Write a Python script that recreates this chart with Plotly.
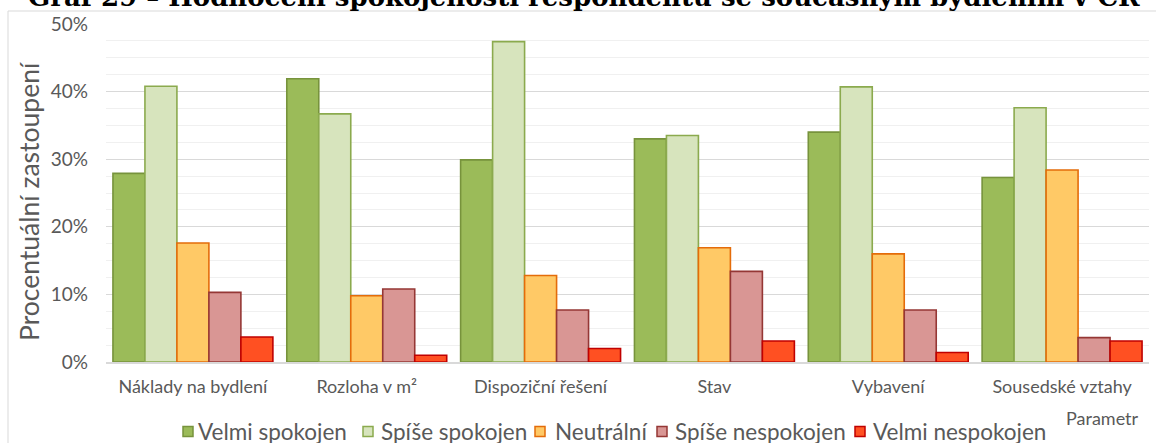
import plotly.graph_objects as go

categories = ["Náklady na bydlení", "Rozloha v m²", "Dispoziční řešení", "Stav", "Vybavení", "Sousedské vztahy"]
series_names = ["Velmi spokojen", "Spíše spokojen", "Neutrální", "Spíše nespokojen", "Velmi nespokojen"]
velmi_spokojen = [0.279, 0.419, 0.299, 0.330, 0.340, 0.273]
spise_spokojen = [0.408, 0.367, 0.474, 0.335, 0.407, 0.376]
neutralni = [0.176, 0.098, 0.128, 0.169, 0.160, 0.284]
spise_nespokojen = [0.103, 0.108, 0.077, 0.134, 0.077, 0.036]
velmi_nespokojen = [0.037, 0.010, 0.020, 0.031, 0.014, 0.031]
y_ticks = [0, 0.1, 0.2, 0.3, 0.4, 0.5]
y_tick_labels = ["0%", "10%", "20%", "30%", "40%", "50%"]

values = [velmi_spokojen, spise_spokojen, neutralni, spise_nespokojen, velmi_nespokojen]
fills = ["#9BBB59", "#D7E4BD", "#FFC966", "#D99694", "#FF5022"]
borders = ["#77933C", "#8BAA4E", "#E46C0A", "#953735", "#C00000"]

FONT = "Lato"
GRAY = "#595959"

W, H = 1156, 443
L, R, T, B = 106, 7, 24, 81
pw = W - L - R
ph = H - T - B


def px_x(px):
    return (px - L) / pw


def px_y(py):
    return (H - B - py) / ph


fig = go.Figure()
for name, vals, fc, bc in zip(series_names, values, fills, borders):
    fig.add_trace(go.Bar(
        x=categories, y=vals, name=name,
        marker=dict(color=fc, line=dict(color=bc, width=1.6)),
    ))

# custom legend (square + label), laid out like the reference
legend_square_x = [183, 363, 535, 657, 855]
legend_text_x = [196, 379, 553, 673, 871]
legend_cy = 431.5
shapes = [dict(
    type="rect", xref="paper", yref="paper",
    x0=px_x(8), x1=px_x(1175), y0=px_y(470), y1=px_y(11),
    line=dict(color="#D9D9D9", width=1), fillcolor="rgba(0,0,0,0)", layer="below",
)]
annotations = [
    dict(
        text="<b>Graf 29 – Hodnocení spokojenosti respondentů se současným bydlením v ČR</b>",
        xref="paper", yref="paper", x=px_x(584), y=px_y(0), xanchor="center", yanchor="middle",
        yshift=4, showarrow=False, font=dict(family="DejaVu Serif", size=26, color="black"),
    ),
    dict(
        text="Procentuální zastoupení", xref="paper", yref="paper", x=px_x(29), y=px_y(201),
        xanchor="center", yanchor="middle", textangle=-90, showarrow=False,
        font=dict(family=FONT, size=26.5, color=GRAY),
    ),
    dict(
        text="Parametr", xref="paper", yref="paper", x=px_x(1141), y=px_y(418),
        xanchor="right", yanchor="middle", showarrow=False,
        font=dict(family=FONT, size=18, color=GRAY),
    ),
]
for name, fc, bc, sx, tx in zip(series_names, fills, borders, legend_square_x, legend_text_x):
    shapes.append(dict(
        type="rect", xref="paper", yref="paper",
        x0=px_x(sx), x1=px_x(sx + 10), y0=px_y(legend_cy + 5), y1=px_y(legend_cy - 5),
        fillcolor=fc, line=dict(color=bc, width=1.5),
    ))
    annotations.append(dict(
        text=name, xref="paper", yref="paper", x=px_x(tx), y=px_y(legend_cy),
        xanchor="left", yanchor="middle", showarrow=False,
        font=dict(family=FONT, size=22.5, color=GRAY),
    ))

fig.update_layout(
    width=W, height=H,
    margin=dict(l=L, r=R, t=T, b=B, pad=0, autoexpand=False),
    paper_bgcolor="white", plot_bgcolor="white",
    barmode="group", bargap=0.08, bargroupgap=0,
    font=dict(family=FONT, color=GRAY, size=16),
    showlegend=False,
    xaxis=dict(
        automargin=False,
        showgrid=False, showline=True, linecolor="#D9D9D9", linewidth=1.5,
        ticks="", tickfont=dict(family=FONT, size=18, color=GRAY),
        ticklabelstandoff=8,
    ),
    yaxis=dict(
        automargin=False,
        range=[0, 0.5], tickvals=y_ticks, ticktext=y_tick_labels,
        showgrid=True, gridcolor="#D9D9D9", gridwidth=1.3,
        zeroline=False, showline=False, ticks="",
        tickfont=dict(family=FONT, size=19, color=GRAY),
        ticklabelstandoff=17,
        minor=dict(dtick=0.025, showgrid=True, gridcolor="#F0F0F0", gridwidth=1.3),
    ),
    shapes=shapes,
    annotations=annotations,
)

fig.write_html(
    "out.html",
    config={"displayModeBar": False},
    post_script="document.body.style.margin='0px';document.documentElement.style.overflow='hidden';",
)
